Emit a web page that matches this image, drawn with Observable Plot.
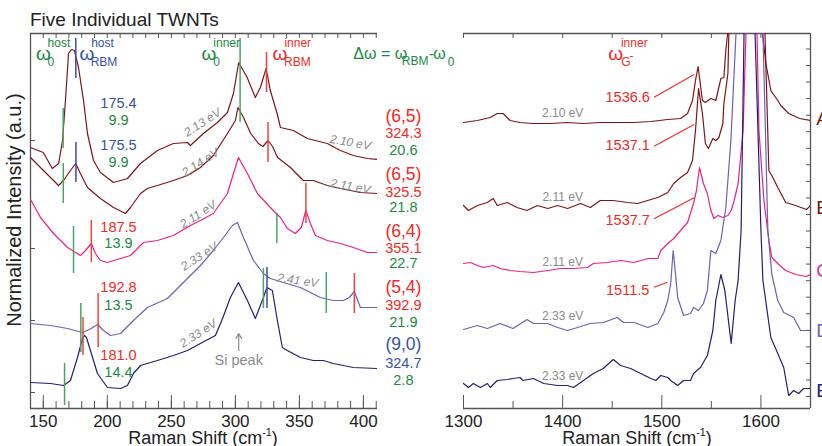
<!DOCTYPE html>
<html><head><meta charset="utf-8">
<script src="https://cdn.jsdelivr.net/npm/d3@7"></script>
<script src="https://cdn.jsdelivr.net/npm/@observablehq/plot@0.6"></script>
<style>
body{margin:0;background:#fff;}
#wrap{position:relative;width:822px;height:446px;overflow:hidden;font-family:'Liberation Sans',Arial,Helvetica,sans-serif;background:#fff;}
#wrap svg{position:absolute;left:0;top:0;}
.lbl{position:absolute;white-space:nowrap;line-height:1;color:#222;}
.lbl sup{font-size:0.6em;vertical-align:0.7em;line-height:0;}
</style></head><body>
<div id="wrap"></div>
<script>
// ================= DATA =================
// Left panel: RBM region (Raman shift cm^-1, normalized intensity a.u. with offsets)
const leftA_wn  = [140,150,157,162,165,167.3,169.7,172,174.3,177.5,181.4,184.5,189.2,194.6,204.8,215.7,225.9,239.1,251.6,262.6,264.9,275,286,293.8,298.5,302.6,309.2,315.6,319.5,324,327.3,332.6,335.2,345.3,356.2,371.8,382,392.1,403.1,410.9];
const leftA_int = [261,256,240,245,268,308,355,359,358,341,308,275,248,236,226,230,245,258,265,266,263,275,286,296,315,346,331,311,321,340,318,295,281,278,270,265,258,253,250,249];
const leftB_wn  = [140,150.1,161.9,165.8,171.2,175.3,179,184.5,194.6,204.8,214.2,218.1,225.9,231.3,239.1,251.6,262.6,272.7,282.8,293.8,300,302,306,312,318,321.5,325.5,329,333,343,353.1,360.9,371.8,382,397.6,410.9];
const leftB_int = [251,238,223,228,238,245,235,221,210,201,195,201,215,220,223,228,233,241,253,275,288,301,292,275,265,262,268,262,251,241,228,228,223,220,216,215];
const leftC_wn  = [140,147.8,158,168.9,179,182.9,187.5,190.7,194.6,200.1,210.3,218.1,228.2,239.1,251.6,264.9,272.7,282.8,293.8,298.5,302.4,309.4,317.2,327.3,335.2,340.6,346.9,351.5,355,358.6,362.5,371.8,382,392.1,403.1,410.9];
const leftC_int = [209,191,175,161,153,158,165,155,148,146,150,153,166,168,173,183,188,195,215,235,251,235,215,201,191,180,175,181,198,185,173,168,165,161,156,156];
const leftD_wn  = [140,155.6,168.9,180.6,186,192.5,197,202.4,210.3,220.4,231.3,246.9,259.4,272.7,282.8,290.7,297.7,301.6,306.3,314.1,321.9,327.3,337.5,350.8,366.4,376.5,384.3,389,392.9,397.6,403.1,410.9];
const leftD_int = [85,83,80,76,79,84,78,73,75,88,101,110,126,143,158,171,183,186,171,148,135,130,126,121,111,108,108,111,117,101,101,101];
const leftE_wn  = [140,155.6,165.8,171.2,176.7,180.6,182.2,183.7,186.8,192.3,200.1,210.3,215.7,220.4,225.9,239.1,251.6,262.6,272.7,284.4,290,296.1,302.4,309.4,315.6,321.9,324.7,328.9,332.8,336.7,340.6,350.8,360.9,368.7,376.5,392.1,410.9];
const leftE_int = [26,25,23,28,51,70,73,71,58,35,21,20,23,35,43,48,53,58,65,73,90,111,126,108,90,111,121,118,88,61,58,51,48,48,45,41,40];

// Right panel: G-band region
const rightA_wn  = [1300,1314,1327,1334,1340,1347,1357,1370,1388,1405,1421,1438,1455,1472,1489,1506,1519,1526,1531,1534,1536.6,1541,1544,1549.5,1554.5,1559.6,1562.6,1564.6,1566.7,1570,1588,1601,1605,1610,1617,1620,1628,1639,1650];
const rightA_int = [286,288,291,295,295,288,286,285,285,286,285,286,286,286,287,289,290,295,308,328,342,308,306,310,308,330,331,358,378,470,1200,380,345,318,308,303,295,290,288];
const rightB_wn  = [1300,1305,1314,1324,1330,1334,1344,1354,1364,1374.5,1385,1395,1405,1418,1428,1438,1451,1465.5,1475.6,1485.7,1496,1506,1512,1519,1526,1531,1534,1537.1,1541,1544,1547,1551.5,1554.5,1557.6,1561.6,1562.6,1566.7,1567.7,1571,1588,1602,1604,1608,1612,1617,1625,1635,1646,1650];
const rightB_int = [203,198,203,206,210,203,206,201,198,203,200,203,200,205,201,208,208,206,205,208,211,216,225,231,236,248,278,320,295,265,260,270,268,271,285,305,335,378,470,1200,470,378,238,231,221,206,203,199,203];
const rightC_wn  = [1300,1307,1314,1320,1330,1337,1347,1357,1370.5,1385,1398,1411,1425,1431,1445,1458.5,1472,1486,1496,1499,1506,1512,1519,1526,1532,1535,1538,1542,1546,1549.5,1552.5,1556.6,1561.6,1566.7,1570,1573,1577,1582,1585,1590,1596,1598,1603,1608,1611,1618,1625,1635,1646,1650];
const rightC_int = [145,146,143,141,143,140,138,137,136,138,140,140,141,145,146,148,146,150,150,158,165,170,178,186,205,218,241,225,215,198,190,193,191,193,198,208,225,278,378,1200,378,278,208,168,151,144,138,134,132,134];
const rightD_wn  = [1300,1314,1324,1337,1350,1364,1370.5,1385,1395,1405,1415,1428,1441,1455,1461.5,1472,1486,1496,1502,1506,1509,1511.5,1514,1516,1522,1529,1532,1537,1542,1546,1549.5,1554.5,1559.6,1564.6,1569.7,1575,1578,1588,1597,1602,1607,1611,1617,1623,1633,1640,1650];
const rightD_int = [79,83,80,85,80,89,85,85,81,78,81,85,86,91,86,86,81,85,96,108,125,158,133,111,93,95,101,98,105,118,158,155,168,201,268,378,470,1200,470,378,178,134,108,96,91,78,78];
const rightE_wn  = [1300,1305,1310,1317,1324,1327,1334,1344,1350,1357,1360,1370.5,1381,1395,1405,1411,1421,1431,1441,1451,1458.5,1468.6,1478.7,1489,1494,1499,1506,1509,1516,1522,1529,1532,1539,1546,1551.5,1554.5,1559.6,1563.6,1570,1574,1577,1580,1583,1588,1594,1600,1602,1610,1617,1623,1628,1633,1638,1643,1650];
const rightE_int = [25,21,25,21,25,21,28,29,30,31,28,30,25,23,23,21,28,35,40,49,43,40,35,30,28,33,31,28,23,28,28,35,41,53,78,108,134,118,65,108,128,178,378,1200,378,178,128,71,55,41,13,18,15,20,20];

// tick values
const leftTicksMajor = [150,200,250,300,350,400];
const leftTicksMinor = [150,160,170,180,190,200,210,220,230,240,250,260,270,280,290,300,310,320,330,340,350,360,370,380,390,400,410];
const leftYTicks = [16,88,160,268];
const rightTicksMajor = [1300,1400,1500,1600];
const rightTicksMinor = [1350,1450,1550,1650];
const rightTopTicks = [1300,1350,1400,1450,1500,1550,1600,1650];
const rightYTicks = [12,28.5,45.1,61.6,78.2,94.7,111.3,127.8,144.4,160.9,177.5,194,210.6,227.1,243.7,260.2,276.8,293.3,309.9,326.4,343,359.5];

// RBM marker lines: wavenumber and vertical extent (a.u.)
const leftMarkers = [
  {w:165.5, lo:260, hi:300, kind:"w0"}, {w:175.4, lo:330, hi:370, kind:"host"},
  {w:303.7, lo:286, hi:370, kind:"w0"}, {w:324.3, lo:316, hi:356, kind:"rbm"},
  {w:165.6, lo:205, hi:245, kind:"w0"}, {w:175.5, lo:226, hi:266, kind:"host"},
  {w:325.5, lo:246, hi:286, kind:"rbm"},
  {w:173.6, lo:135, hi:182, kind:"w0"}, {w:187.5, lo:146, hi:188, kind:"rbm"},
  {w:332.4, lo:165, hi:195, kind:"w0"}, {w:355.1, lo:185, hi:225, kind:"rbm"},
  {w:179.3, lo:56, hi:105, kind:"w0"}, {w:192.8, lo:61, hi:115, kind:"rbm"},
  {w:371.0, lo:95, hi:136, kind:"w0"}, {w:392.9, lo:95, hi:135, kind:"rbm"},
  {w:166.6, lo:3, hi:45, kind:"w0"}, {w:181.0, lo:53, hi:91, kind:"rbm"},
  {w:321.9, lo:100, hi:140, kind:"w0"}, {w:324.7, lo:100, hi:141, kind:"host"}
];

// host RBM / Δω values (inner column)
const hostLabels = [
  {t:"175.4", y:305, c:"blue"}, {t:"9.9", y:288, c:"green"},
  {t:"175.5", y:263, c:"blue"}, {t:"9.9", y:246, c:"green"},
  {t:"187.5", y:181, c:"red"}, {t:"13.9", y:165, c:"green"},
  {t:"192.8", y:121, c:"red"}, {t:"13.5", y:103, c:"green"},
  {t:"181.0", y:53, c:"red"}, {t:"14.4", y:36, c:"green"}
];
// inner tube (n,m), RBM, Δω
const chirality = [
  {t:"(6,5)", y:292, c:"red"}, {t:"(6,5)", y:234, c:"red"}, {t:"(6,4)", y:177, c:"red"},
  {t:"(5,4)", y:121, c:"red"}, {t:"(9,0)", y:64, c:"blue"}
];
const innerLabels = [
  {t:"324.3", y:275, c:"red"}, {t:"20.6", y:258, c:"green"},
  {t:"325.5", y:216, c:"red"}, {t:"21.8", y:201, c:"green"},
  {t:"355.1", y:160, c:"red"}, {t:"22.7", y:145, c:"green"},
  {t:"392.9", y:103, c:"red"}, {t:"21.9", y:86, c:"green"},
  {t:"324.7", y:45, c:"blue"}, {t:"2.8", y:28, c:"green"}
];
// laser energies
const leftEnergies = [
  {t:"2.13 eV", x:274.3, y:286, r:-33}, {t:"2.14 eV", x:272.7, y:246, r:-33},
  {t:"2.10 eV", x:389.8, y:266, r:10},  {t:"2.11 eV", x:389.8, y:222, r:10},
  {t:"2.11 eV", x:271, y:194, r:-33},   {t:"2.33 eV", x:271.9, y:152, r:-33},
  {t:"2.41 eV", x:348.7, y:128, r:8},   {t:"2.33 eV", x:271.1, y:75, r:-33}
];
const rightEnergies = [
  {t:"2.10 eV", x:1400, y:295}, {t:"2.11 eV", x:1400, y:211}, {t:"2.11 eV", x:1400, y:146},
  {t:"2.33 eV", x:1400, y:92}, {t:"2.33 eV", x:1400, y:32}
];
// symbol headers (ω with sub/superscripts)
const leftSymbols = [
  {t:"ω", x:144.2, y:355, c:"green", s:"sym"}, {t:"0", x:153.3, y:346, c:"green", s:"sub"}, {t:"host", x:153.3, y:365, c:"green", s:"sup"},
  {t:"ω", x:178.2, y:355, c:"blue", s:"sym"}, {t:"RBM", x:187, y:346, c:"blue", s:"sub"}, {t:"host", x:187.4, y:365, c:"blue", s:"sup"},
  {t:"ω", x:273.6, y:355, c:"green", s:"sym"}, {t:"0", x:282.8, y:346, c:"green", s:"sub"}, {t:"inner", x:282.8, y:365, c:"green", s:"sup"},
  {t:"ω", x:329, y:355, c:"red", s:"sym"}, {t:"RBM", x:338, y:346, c:"red", s:"sub"}, {t:"inner", x:338.3, y:365, c:"red", s:"sup"},
  {t:"Δω = ω", x:392.1, y:355, c:"green", s:"eq"}, {t:"RBM", x:430, y:347, c:"green", s:"sub"},
  {t:"-", x:451, y:355, c:"green", s:"eq"}, {t:"ω", x:454.5, y:355, c:"green", s:"eq"}, {t:"0", x:465.8, y:346, c:"green", s:"sub"}
];
const rightSymbols = [
  {t:"ω", x:1446, y:355, c:"red", s:"sym"}, {t:"G", x:1459.2, y:346, c:"red", s:"sub"},
  {t:"-", x:1467.4, y:352, c:"red", s:"sup"}, {t:"inner", x:1458.8, y:365, c:"red", s:"sup"}
];
// inner-tube G- peak labels and leader lines
const gLabels = [
  {t:"1536.6", x:1465.6, y:311}, {t:"1537.1", x:1465.6, y:263},
  {t:"1537.7", x:1465.6, y:188}, {t:"1511.5", x:1465.6, y:118}
];
const gLeaders = [
  {x1:1492.2, y1:311.3, x2:1532.6, y2:334},
  {x1:1492.2, y1:262.3, x2:1532.6, y2:284},
  {x1:1492.2, y1:189.7, x2:1532.6, y2:210.7},
  {x1:1492.2, y1:121.3, x2:1505.7, y2:126.3}
];
const tubeLetters = [
  {t:"A", y:290, c:"maroon"}, {t:"B", y:201, c:"maroon"}, {t:"C", y:138, c:"pink"},
  {t:"D", y:78, c:"lavender"}, {t:"E", y:18, c:"navy"}
];
const siPeak = [{t:"Si peak", x:302.6, y:48, y1:58, y2:75}];

// ================= STYLE =================
const COL = {maroon:"#7d1518", pink:"#ec1f87", lavender:"#6f60b1", navy:"#202070",
  red:"#ee2a24", green:"#1b8a42", blue:"#3552a6", gray:"#8a8a8a"};
const MARK = {w0:"#47a566", rbm:"#f0433d", host:"#3d4cae"};
const FONT = "'Liberation Sans', Arial, Helvetica, sans-serif";
const AX = "#555";
const SIZE = {sym:19, eq:16, sub:12, sup:12};

const series = (wn, v) => wn.map((w, i) => ({w, v: v[i]}));
const curve = (wn, v, c) => Plot.line(series(wn, v), {x:"w", y:"v", stroke:COL[c], strokeWidth:1.2, clip:true});
const texts = (rows, opts, xDefault) => rows.map(r => Plot.text([r], {
  x: r.x ?? xDefault, y: "y", text: "t", fill: COL[r.c] ?? COL.gray, ...opts,
  ...(r.s ? {fontSize: SIZE[r.s], textAnchor: "start"} : {}),
  ...(r.r !== undefined ? {rotate: r.r} : {})
}));

const common = {width:822, height:446, marginTop:33, marginBottom:38,
  y:{domain:[0,375]}, style:{background:"transparent", fontFamily:FONT, color:"#222", overflow:"visible"}};

// ================= LEFT PANEL =================
const left = Plot.plot({
  ...common, marginLeft:30, marginRight:445,
  x:{domain:[140,411]},
  marks:[
    Plot.ruleX([140], {stroke:AX, strokeWidth:1.3}),
    Plot.ruleY([0, 375], {stroke:AX, strokeWidth:1.3}),
    Plot.axisX({anchor:"bottom", ticks:leftTicksMinor, tickSize:-7, tickFormat:() => "", label:null, stroke:AX}),
    Plot.axisX({anchor:"bottom", ticks:leftTicksMajor, tickSize:-13, tickFormat:() => "", label:null, stroke:AX}),
    Plot.axisX({anchor:"bottom", ticks:leftTicksMajor, tickSize:0, tickPadding:6, fontSize:17, label:null, tickFormat:d3.format("d")}),
    Plot.axisX({anchor:"top", ticks:leftTicksMinor, tickSize:-4, tickFormat:() => "", label:null, stroke:AX}),
    Plot.axisY({anchor:"left", ticks:leftYTicks, tickSize:-5, tickFormat:() => "", label:null, stroke:AX}),
    curve(leftA_wn, leftA_int, "maroon"),
    curve(leftB_wn, leftB_int, "maroon"),
    curve(leftC_wn, leftC_int, "pink"),
    curve(leftD_wn, leftD_int, "lavender"),
    curve(leftE_wn, leftE_int, "navy"),
    Plot.ruleX(leftMarkers, {x:"w", y1:"lo", y2:"hi", stroke:d => MARK[d.kind], strokeWidth:1.5}),
    ...texts(hostLabels, {fontSize:14.5}, 208.7),
    ...texts(chirality, {fontSize:17.5}, 431.2),
    ...texts(innerLabels, {fontSize:14.5}, 431.2),
    ...texts(leftEnergies, {fontSize:12, fontStyle:"italic"}),
    ...texts(leftSymbols, {}),
    Plot.arrow(siPeak, {x:"x", y1:"y1", y2:"y2", stroke:COL.gray, strokeWidth:1.2, headLength:7}),
    Plot.text(siPeak, {x:"x", y:"y", text:"t", fill:COL.gray, fontSize:14.5})
  ]
});

// ================= RIGHT PANEL =================
const right = Plot.plot({
  ...common, marginLeft:463, marginRight:12,
  x:{domain:[1300,1650]},
  marks:[
    Plot.ruleX([1650], {stroke:AX, strokeWidth:1.3}),
    Plot.ruleY([0, 375], {stroke:AX, strokeWidth:1.3}),
    Plot.axisX({anchor:"bottom", ticks:rightTicksMinor, tickSize:-7, tickFormat:() => "", label:null, stroke:AX}),
    Plot.axisX({anchor:"bottom", ticks:rightTicksMajor, tickSize:-13, tickFormat:() => "", label:null, stroke:AX}),
    Plot.axisX({anchor:"bottom", ticks:rightTicksMajor, tickSize:0, tickPadding:6, fontSize:17, label:null, tickFormat:d3.format("d")}),
    Plot.axisX({anchor:"top", ticks:rightTopTicks, tickSize:-4, tickFormat:() => "", label:null, stroke:AX}),
    Plot.axisY({anchor:"right", ticks:rightYTicks, tickSize:-5, tickFormat:() => "", label:null, stroke:AX}),
    curve(rightA_wn, rightA_int, "maroon"),
    curve(rightB_wn, rightB_int, "maroon"),
    curve(rightC_wn, rightC_int, "pink"),
    curve(rightD_wn, rightD_int, "lavender"),
    curve(rightE_wn, rightE_int, "navy"),
    Plot.link(gLeaders, {x1:"x1", y1:"y1", x2:"x2", y2:"y2", stroke:COL.red, strokeWidth:1.1}),
    ...texts(gLabels, {fontSize:14.5, fill:COL.red}),
    ...texts(rightEnergies, {fontSize:12}),
    ...texts(rightSymbols, {}),
    ...texts(tubeLetters, {fontSize:19, textAnchor:"start"}, 1655.7)
  ]
});

const wrap = document.getElementById("wrap");
wrap.appendChild(left);
wrap.appendChild(right);
wrap.insertAdjacentHTML("beforeend", `
  <div class="lbl" style="left:30px;top:10px;font-size:19px">Five Individual TWNTs</div>
  <div class="lbl" style="left:14px;top:210px;font-size:20px;transform:translate(-50%,-50%) rotate(-90deg)">Normalized Intensity (a.u.)</div>
  <div class="lbl" style="left:203px;top:429px;font-size:18px;transform:translateX(-50%)">Raman Shift (cm<sup>-1</sup>)</div>
  <div class="lbl" style="left:637px;top:429px;font-size:18px;transform:translateX(-50%)">Raman Shift (cm<sup>-1</sup>)</div>
`);
</script>
</body></html>
